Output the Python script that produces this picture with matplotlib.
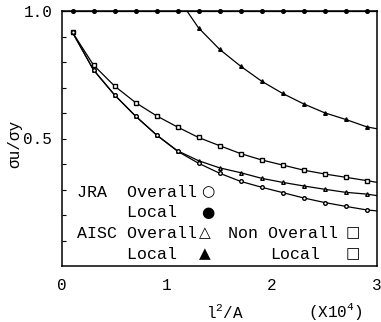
import matplotlib
matplotlib.use("Agg")
import matplotlib.pyplot as plt

plt.rcParams['mathtext.fontset'] = 'custom'
plt.rcParams['mathtext.rm'] = 'Liberation Mono'
plt.rcParams['mathtext.it'] = 'Liberation Mono'

MONO = 'Liberation Mono'

# ---- data ----
x_pts = [0.1, 0.3, 0.5, 0.7, 0.9, 1.1, 1.3, 1.5, 1.7, 1.9, 2.1, 2.3, 2.5, 2.7, 2.9, 3.0]
jra_local = [1.0] * 16
non_curve = [0.916, 0.788, 0.706, 0.641, 0.589, 0.545, 0.504, 0.472, 0.441, 0.416,
             0.396, 0.376, 0.361, 0.348, 0.335, 0.328]
jra_overall = [0.916, 0.769, 0.671, 0.588, 0.514, 0.450, 0.403, 0.364, 0.332, 0.309,
               0.288, 0.267, 0.249, 0.234, 0.220, 0.216]
aisc_overall = [0.916, 0.769, 0.671, 0.588, 0.514, 0.452, 0.413, 0.385, 0.366, 0.344,
                0.328, 0.314, 0.301, 0.289, 0.282, 0.276]
x_aisc_local = [1.19, 1.3, 1.5, 1.7, 1.9, 2.1, 2.3, 2.5, 2.7, 2.9, 3.0]
aisc_local = [1.0, 0.934, 0.850, 0.784, 0.725, 0.677, 0.636, 0.601, 0.575, 0.546, 0.538]

x_ticks = [0, 1, 2, 3]
y_ticks = [0.5, 1.0]
y_labels = ['0.5', '1.0']

fig = plt.figure(figsize=(3.81, 3.22), dpi=100)
ax = fig.add_axes([62/381, 56/322, 315/381, 255/322])

lw = 0.9
ms = 2.6
mark_idx = list(range(15))
ax.plot([0] + x_pts, [1.0] + jra_local, color='black', lw=lw, marker='o', ms=ms,
        mfc='black', markevery=list(range(1, 16)), clip_on=False)
ax.plot(x_pts, non_curve, color='black', lw=lw, marker='s', ms=ms, mfc='white',
        markevery=mark_idx)
ax.plot(x_pts, aisc_overall, color='black', lw=lw, marker='^', ms=ms, mfc='white',
        markevery=mark_idx)
ax.plot(x_pts, jra_overall, color='black', lw=lw, marker='o', ms=ms, mfc='white',
        markevery=mark_idx)
ax.plot(x_aisc_local, aisc_local, color='black', lw=lw, marker='^', ms=ms, mfc='black',
        markevery=list(range(1, 10)))

ax.set_xlim(0, 3)
ax.set_ylim(0, 1.0)
ax.set_xticks(x_ticks)
ax.set_xticklabels([str(v) for v in x_ticks], fontfamily=MONO, fontsize=11.5)
ax.set_yticks(y_ticks)
ax.set_yticklabels(y_labels, fontfamily=MONO, fontsize=11.5)
ax.set_yticks([0.1, 0.2, 0.3, 0.4, 0.6, 0.7, 0.8, 0.9], minor=True)
ax.tick_params(axis='y', which='both', direction='in', length=3, width=0.8, pad=7)
ax.tick_params(axis='x', which='both', length=0, pad=9)
for s in ax.spines.values():
    s.set_linewidth(1.1)

# legend as text
fs = 12
rows = [0.290, 0.208, 0.129, 0.047]
ax.text(0.143, rows[0], 'JRA  Overall', fontfamily=MONO, fontsize=fs, va='center')
ax.text(0.143, rows[1], '     Local', fontfamily=MONO, fontsize=fs, va='center')
ax.text(0.143, rows[2], 'AISC Overall', fontfamily=MONO, fontsize=fs, va='center')
ax.text(0.143, rows[3], '     Local', fontfamily=MONO, fontsize=fs, va='center')
ax.text(1.581, rows[2], 'Non Overall', fontfamily=MONO, fontsize=fs, va='center')
ax.text(1.981, rows[3], 'Local', fontfamily=MONO, fontsize=fs, va='center')
sym = dict(fontfamily='DejaVu Sans', fontsize=11, ha='center', va='center', fontweight='bold')
ax.text(1.39, rows[0], '○', **sym)
ax.text(1.39, rows[1], '●', **sym)
ax.text(1.36, rows[2], '△', **sym)
ax.text(1.36, rows[3], '▲', **sym)
ax.text(2.77, rows[2], '□', **sym)
ax.text(2.77, rows[3], '□', **sym)

fig.text(15/381, 1 - 144/322, 'σu/σy', fontfamily=MONO, fontsize=11.5, rotation=90,
         ha='center', va='center')
fig.text(225/381, 1 - 312/322, r'l$^\mathrm{2}$/A', fontfamily=MONO, fontsize=11.5,
         ha='center', va='center')
fig.text(335/381, 1 - 312/322, r'(X10$^\mathrm{4}$)', fontfamily=MONO, fontsize=11.5,
         ha='center', va='center')

fig.savefig('out.png', dpi=100)
